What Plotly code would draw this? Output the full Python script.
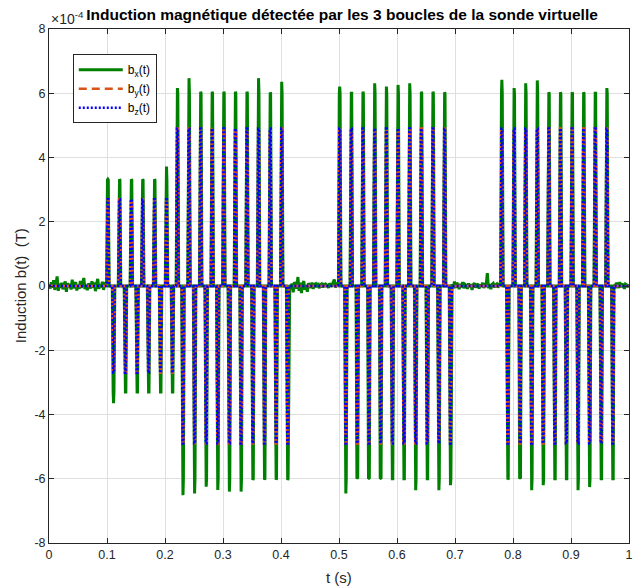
import numpy as np
import plotly.graph_objects as go

# ---------------- data (values in units of 1e-4 T) ----------------
# pulse centre times (s), grouped by burst
burst_t = [
    [0.1015, 0.1113, 0.1216, 0.1318, 0.1420, 0.1519, 0.1615, 0.1717, 0.1820, 0.1923, 0.2026, 0.2128],
    [0.2214, 0.2310, 0.2414, 0.2510, 0.2615, 0.2710, 0.2813, 0.2910, 0.3014, 0.3110,
     0.3214, 0.3312, 0.3413, 0.3515, 0.3613, 0.3716, 0.3814, 0.3916, 0.4012, 0.4115],
    [0.5012, 0.5118, 0.5212, 0.5316, 0.5413, 0.5516, 0.5615, 0.5718, 0.5817, 0.5920,
     0.6018, 0.6120, 0.6219, 0.6322, 0.6420, 0.6522, 0.6620, 0.6722, 0.6821, 0.6922],
    [0.7808, 0.7911, 0.8019, 0.8122, 0.8219, 0.8322, 0.8419, 0.8521, 0.8618, 0.8721,
     0.8818, 0.8921, 0.9019, 0.9121, 0.9218, 0.9321, 0.9418, 0.9521, 0.9618, 0.9721],
]
# bx peak value of every pulse
burst_bx_peak = [
    [3.32, -3.65, 3.32, -3.30, 3.32, -3.30, 3.32, -3.30, 3.32, -3.30, 3.72, -3.30],
    [6.16, -6.51, 6.47, -6.46, 6.05, -6.25, 6.05, -6.35, 6.05, -6.40,
     6.05, -6.40, 6.05, -6.04, 6.47, -6.03, 6.02, -6.03, 6.36, -6.04],
    [6.21, -6.46, 6.00, -5.96, 6.05, -5.99, 6.31, -5.99, 6.21, -6.00,
     6.26, -6.00, 6.31, -6.36, 6.05, -6.00, 6.05, -6.36, 6.03, -6.20],
    [6.42, -6.02, 6.16, -5.97, 6.31, -6.36, 6.40, -6.20, 6.03, -6.00,
     6.03, -6.00, 6.03, -6.36, 6.03, -6.26, 6.00, -6.00, 6.16, -6.00],
]
# plateau level of each burst for the three loops
burst_bx_level = [3.3, 6.0, 6.0, 6.0]
burst_by_level = [2.7, 4.9, 4.9, 4.9]
burst_bz_level = [2.7, 4.9, 4.9, 4.9]

# quiet intervals and the bx noise read in them
quiet_start = [0.000, 0.415, 0.695, 0.974]
quiet_end = [0.098, 0.498, 0.778, 1.000]
quiet_bx = [
    [0.05, -0.08, 0.12, -0.05, 0.18, -0.12, 0.06, 0.30, -0.15, 0.08, -0.06, 0.10, -0.10,
     0.04, 0.14, -0.18, 0.09, -0.04, 0.07, -0.11, 0.20, -0.07, 0.05, 0.12, -0.14, 0.03,
     -0.09, 0.16, -0.06, 0.10, 0.25, -0.10, 0.04, -0.13, 0.08, 0.02, -0.08, 0.15, -0.05,
     0.11, -0.16, 0.06, 0.22, -0.09, 0.05, -0.04, 0.13, -0.12, 0.07, 0.10],
    [0.04, -0.10, 0.08, -0.20, 0.12, 0.05, -0.08, 0.28, -0.15, 0.10, -0.22, 0.06, 0.15,
     -0.12, 0.03, -0.18, 0.09, 0.02, -0.06, 0.11, -0.09, 0.05, 0.07, -0.04, 0.10, -0.07,
     0.03, 0.06, -0.05, 0.09, -0.03, 0.05, 0.02, -0.06, 0.08, 0.04, -0.02, 0.12, 0.20,
     -0.05, 0.06, 0.03],
    [0.06, -0.08, 0.14, -0.06, 0.10, 0.03, -0.10, 0.07, -0.04, 0.12, -0.07, 0.05, 0.02,
     -0.09, 0.08, -0.03, 0.06, -0.12, 0.04, 0.09, -0.05, 0.03, 0.07, -0.08, 0.05, -0.02,
     0.10, -0.06, 0.04, 0.02, 0.40, -0.07, 0.06, -0.10, 0.05, 0.08, -0.04, 0.03, 0.06,
     -0.05, 0.04, 0.02],
    [0.05, -0.08, 0.10, 0.03, -0.06, 0.12, -0.04, 0.07, 0.02, -0.09, 0.06, 0.04, -0.03, 0.05],
]

x_ticks = [0, 0.1, 0.2, 0.3, 0.4, 0.5, 0.6, 0.7, 0.8, 0.9, 1]
x_ticklabels = ["0", "0.1", "0.2", "0.3", "0.4", "0.5", "0.6", "0.7", "0.8", "0.9", "1"]
y_ticks = [-8, -6, -4, -2, 0, 2, 4, 6, 8]
y_ticklabels = ["-8", "-6", "-4", "-2", "0", "2", "4", "6", "8"]

# ---------------- pulse shape (style) ----------------
RISE = 0.0022
TOP = 0.0007
sequence = [("q", 0), ("b", 0), ("b", 1), ("q", 1), ("b", 2), ("q", 2), ("b", 3), ("q", 3)]


def build(levels, use_peak, use_noise):
    t, v = [], []
    for kind, i in sequence:
        if kind == "q":
            n = len(quiet_bx[i])
            ts = np.linspace(quiet_start[i], quiet_end[i], n)
            t += list(ts)
            v += list(quiet_bx[i]) if use_noise else [0.0] * n
        else:
            for tc, pk in zip(burst_t[i], burst_bx_peak[i]):
                s = 1 if pk > 0 else -1
                lvl = s * levels[i]
                top = pk if use_peak else lvl
                t += [tc - RISE, tc - TOP, tc, tc + TOP, tc + RISE]
                v += [0.0, lvl, top, lvl, 0.0]
    return t, v


tx, vx = build(burst_bx_level, True, True)
ty, vy = build(burst_by_level, False, False)
tz, vz = build(burst_bz_level, False, False)

FONT = "Liberation Sans, Arial, Helvetica, sans-serif"
AX = "#262626"

fig = go.Figure()
fig.add_trace(go.Scatter(x=tx, y=vx, mode="lines", name="b<sub>x</sub>(t)",
                         line=dict(color="#008000", width=3)))
fig.add_trace(go.Scatter(x=ty, y=vy, mode="lines", name="b<sub>y</sub>(t)",
                         line=dict(color="#D95319", width=2.5, dash="8px,5px")))
fig.add_trace(go.Scatter(x=tz, y=vz, mode="lines", name="b<sub>z</sub>(t)",
                         line=dict(color="#0000FF", width=2.5, dash="2px,2px")))

axis_common = dict(showline=True, linecolor=AX, linewidth=1, mirror="ticks",
                   ticks="inside", ticklen=5, tickcolor=AX, tickwidth=1,
                   showgrid=True, gridcolor="#dfdfdf", gridwidth=1, zeroline=False,
                   ticklabeloverflow="allow",
                   tickfont=dict(family=FONT, size=12.5, color=AX))

fig.update_xaxes(range=[0, 1], tickvals=x_ticks, ticktext=x_ticklabels, **axis_common)
fig.update_yaxes(range=[-8, 8], tickvals=y_ticks, ticktext=y_ticklabels, **axis_common)

fig.update_layout(
    width=634, height=588,
    margin=dict(l=49, r=1, t=29, b=45),
    paper_bgcolor="white", plot_bgcolor="white",
    font=dict(family=FONT, color=AX),
    title=dict(text="<b>Induction magnétique détectée par les 3 boucles de la sonde virtuelle</b>",
               x=(49 + 635) / 2 / 634, xanchor="center", y=1 - 15 / 588, yanchor="middle",
               font=dict(family=FONT, size=15.5, color="black")),
    legend=dict(x=0.041, y=0.951, xanchor="left", yanchor="top",
                bgcolor="white", bordercolor=AX, borderwidth=1,
                font=dict(family=FONT, size=12, color="black"),
                itemwidth=44, tracegroupgap=0),
    annotations=[
        dict(text="×10<sup>-4</sup>", xref="paper", yref="paper", x=0, y=1.0,
             xanchor="left", yanchor="bottom", showarrow=False,
             font=dict(family=FONT, size=14, color=AX)),
        dict(text="t (s)", xref="paper", yref="paper", x=0.5, y=-34 / 514,
             xanchor="center", yanchor="middle", showarrow=False,
             font=dict(family=FONT, size=15, color=AX)),
        dict(text="Induction b(t)  (T)", xref="paper", yref="paper", x=-29 / 584, y=0.5,
             xanchor="center", yanchor="middle", textangle=-90, showarrow=False,
             font=dict(family=FONT, size=15, color=AX)),
    ],
)

fig.write_html("out.html", config={"displayModeBar": False},
               post_script="document.body.style.margin='0';")
